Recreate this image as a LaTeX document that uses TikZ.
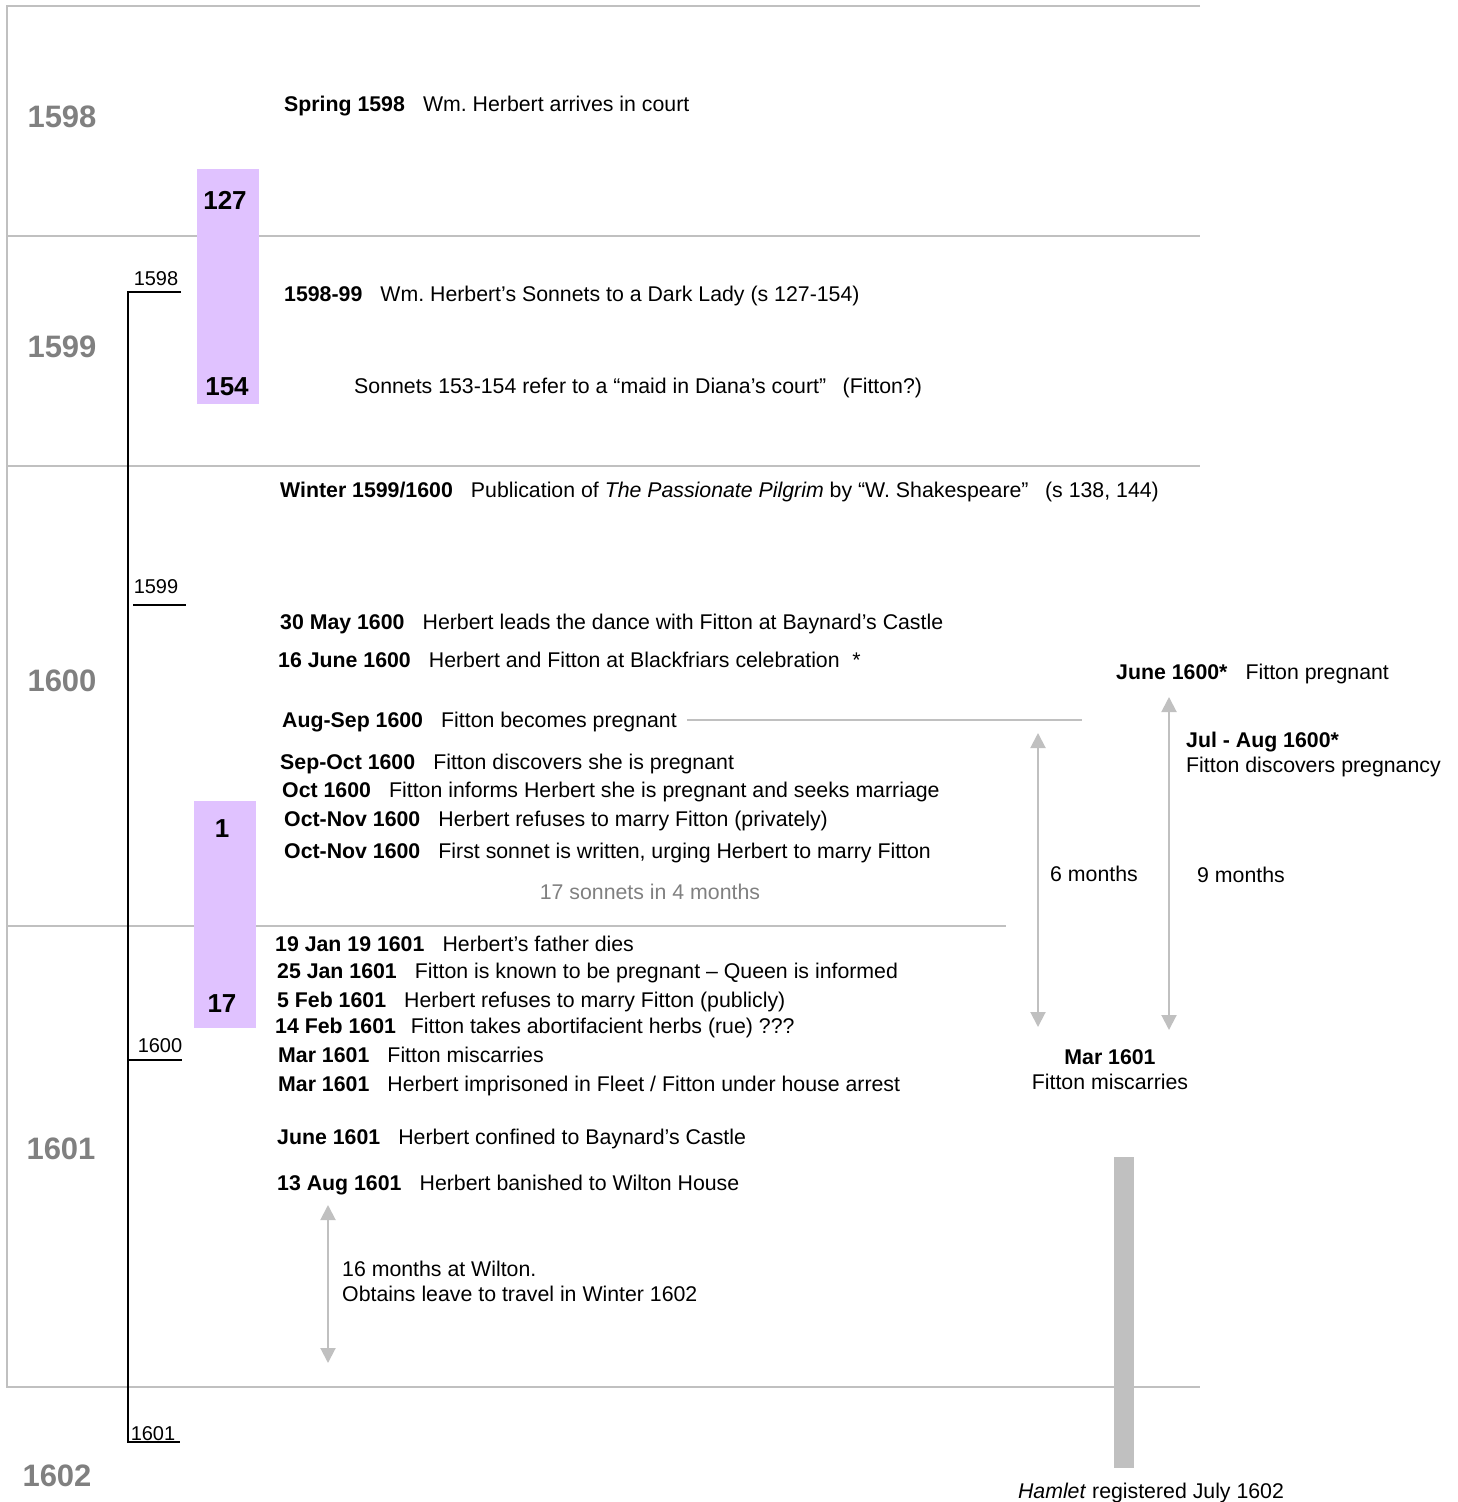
\documentclass[tikz,border=0pt]{standalone}
\usepackage{fontspec}
\setmainfont{Liberation Sans}
\usepackage{xcolor}
\usepackage{tikz}
\usetikzlibrary{arrows.meta,positioning}
\definecolor{rulegray}{HTML}{C0C0C0}
\definecolor{yeargray}{HTML}{808080}
\definecolor{lilac}{HTML}{E0C2FF}
\newcommand{\when}[1]{\textbf{#1}\hspace{0.85em}}
\frenchspacing

\begin{document}
\begin{tikzpicture}[x=1pt,y=-1pt,inner sep=0pt,
  font=\fontsize{21.3}{24.5}\selectfont,
  grid/.style={draw=rulegray,line width=2pt},
  year/.style={font=\fontsize{31}{36}\selectfont\bfseries,text=yeargray,anchor=base},
  tick/.style={font=\fontsize{20}{24}\selectfont,anchor=base},
  num/.style={font=\fontsize{26}{30}\selectfont\bfseries,anchor=base},
  ev/.style={anchor=base west},
  note/.style={anchor=base west,align=left},
  dur/.style={{Triangle[length=15pt,width=15pt]}-{Triangle[length=15pt,width=15pt]},
              draw=rulegray,line width=2pt}]
\useasboundingbox (0,0) rectangle (1458,1502);

% year grid
\draw[grid] (1200,6) -- (7,6) -- (7,1387) -- (1200,1387);
\draw[grid] (7,236) -- (1200,236);
\draw[grid] (7,466) -- (1200,466);
\draw[grid] (7,926) -- (1006,926);

\node[year] (y1598) at (62,127) {1598};
\node[year] (y1599) at (62,357) {1599};
\node[year] (y1600) at (62,691) {1600};
\node[year] (y1601) at (61,1159) {1601};
\node[year] (y1602) at (57,1486) {1602};

% age line
\draw[line width=2pt] (181,292) -- (128,292) -- (128,1442) -- (180,1442);
\draw[line width=2pt] (133,605) -- (186,605);
\draw[line width=2pt] (128,1060) -- (182,1060);
\node[tick] (a1598) at (156,285) {1598};
\node[tick] (a1599) at (156,593) {1599};
\node[tick] (a1600) at (160,1052) {1600};
\node[tick] (a1601) at (153,1440) {1601};

% sonnet blocks
\fill[lilac] (197,169) rectangle (259,404);
\fill[lilac] (194,801) rectangle (256,1028);
\node[num] (s127) at (225,209) {127};
\node[num] (s154) at (227,395) {154};
\node[num] (s1) at (222,837) {1};
\node[num] (s17) at (222,1012) {17};

% events
\node[ev] (spring) at (284,111) {\when{Spring 1598}Wm. Herbert arrives in court};
\node[ev] (dark) at (284,301) {\when{1598-99}Wm. Herbert’s Sonnets to a Dark Lady (s 127-154)};
\node[ev] (diana) at (354,393) {Sonnets 153-154 refer to a “maid in Diana’s court”\hspace{0.5em} (Fitton?)};
\node[ev] (pilgrim) at (280,497) {\when{Winter 1599/1600}Publication of \textit{The Passionate Pilgrim} by “W. Shakespeare”\hspace{0.5em} (s 138, 144)};
\node[ev] (dance) at (280,629) {\when{30 May 1600}Herbert leads the dance with Fitton at Baynard’s Castle};
\node[ev] (black) at (278,667) {\when{16 June 1600}Herbert and Fitton at Blackfriars celebration\hspace{0.6em}*};
\node[ev] (augsep) at (282,727) {\when{Aug-Sep 1600}Fitton becomes pregnant};
\node[ev] (sepoct) at (280,769) {\when{Sep-Oct 1600}Fitton discovers she is pregnant};
\node[ev] (oct) at (282,797) {\when{Oct 1600}Fitton informs Herbert she is pregnant and seeks marriage};
\node[ev] (refuse) at (284,826) {\when{Oct-Nov 1600}Herbert refuses to marry Fitton (privately)};
\node[ev] (first) at (284,858) {\when{Oct-Nov 1600}First sonnet is written, urging Herbert to marry Fitton};
\node[anchor=base,text=yeargray] (seventeen) at (650,899) {17 sonnets in 4 months};
\node[ev] (father) at (275,951) {\when{19 Jan 19 1601}Herbert’s father dies};
\node[ev] (queen) at (277,978) {\when{25 Jan 1601}Fitton is known to be pregnant -- Queen is informed};
\node[ev] (public) at (277,1007) {\when{5 Feb 1601}Herbert refuses to marry Fitton (publicly)};
\node[ev] (rue) at (275,1033) {\textbf{14 Feb 1601}\hspace{0.7em}Fitton takes abortifacient herbs (rue) ???};
\node[ev] (misc) at (278,1062) {\when{Mar 1601}Fitton miscarries};
\node[ev] (fleet) at (278,1091) {\when{Mar 1601}Herbert imprisoned in Fleet / Fitton under house arrest};
\node[ev] (baynard) at (277,1144) {\when{June 1601}Herbert confined to Baynard’s Castle};
\node[ev] (wilton) at (277,1190) {\when{13 Aug 1601}Herbert banished to Wilton House};
\node[note] (leave) at (342,1301) {16 months at Wilton.\\Obtains leave to travel in Winter 1602};

% pregnancy span
\coordinate (pregend) at (1082,720);
\draw[grid] ([xshift=10pt]augsep.east |- pregend) -- (pregend);
\node[ev] (june) at (1116,679) {\when{June 1600*}Fitton pregnant};
\node[note] (julaug) at (1186,772) {\textbf{Jul - Aug 1600*}\\Fitton discovers pregnancy};
\node[ev] (nine) at (1197,882) {9 months};
\node[ev] (six) at (1050,881) {6 months};
\node[anchor=base,align=center] (marmisc) at (1110,1089) {\textbf{Mar 1601}\\Fitton miscarries};
\coordinate (sixtop) at (1038,733);
\coordinate (sixbot) at (1038,1027);
\coordinate (ninetop) at (1169,697);
\coordinate (ninebot) at (1169,1030);
\coordinate (wtop) at (328,1205);
\coordinate (wbot) at (328,1363);
\draw[dur] (sixtop) -- (sixbot);
\draw[dur] (ninetop) -- (ninebot);
\draw[dur] (wtop) -- (wbot);

% hamlet
\fill[rulegray] (1114,1157) rectangle (1134,1468);
\node[anchor=base] (hamlet) at (1151,1498) {\textit{Hamlet} registered July 1602};
\end{tikzpicture}
\end{document}
